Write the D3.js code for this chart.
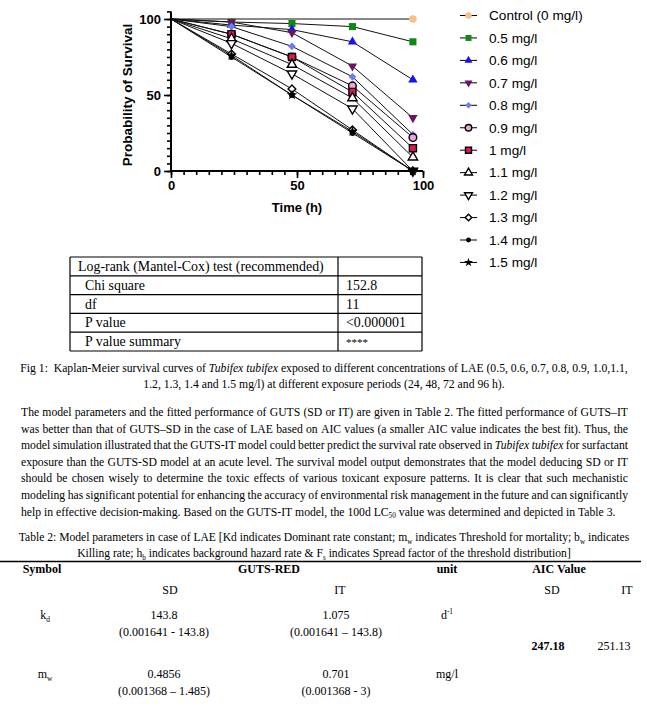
<!DOCTYPE html>
<html><head><meta charset="utf-8">
<script src="https://cdn.jsdelivr.net/npm/d3@7"></script>
<style>body{margin:0;background:#fff;} svg{display:block;} text{white-space:pre;}</style>
</head><body>
<script>
// ---------------- DATA ----------------
const times = [0, 24, 48, 72, 96];
const seriesLabels = ["Control (0 mg/l)", "0.5 mg/l", "0.6 mg/l", "0.7 mg/l", "0.8 mg/l", "0.9 mg/l",
  "1 mg/l", "1.1 mg/l", "1.2 mg/l", "1.3 mg/l", "1.4 mg/l", "1.5 mg/l"];
const survControl = [100, 100, 100, 100, 100];
const surv05 = [100, 98, 97, 95, 85];
const surv06 = [100, 96, 93, 85, 60];
const surv07 = [100, 98, 91, 69, 35];
const surv08 = [100, 95, 82, 62, 24];
const surv09 = [100, 90, 75, 56, 22];
const surv10 = [100, 90, 75, 52, 15];
const surv11 = [100, 87, 70, 48, 9];
const surv12 = [100, 84, 64, 41, 0];
const surv13 = [100, 77, 54, 27, 0];
const surv14 = [100, 75, 50, 25, 0];
const surv15 = [100, 76, 50, 26, 0];
const yTickValues = [0, 50, 100];
const xTickValues = [0, 50, 100];
const xTitle = "Time (h)";
const yTitle = "Probability of Survival";

const statsLabels = ["Log-rank (Mantel-Cox) test (recommended)", "Chi square", "df", "P value", "P value summary"];
const statsValues = ["", "152.8", "11", "<0.000001", "****"];

const captionLines = [
  "Fig 1:  Kaplan-Meier survival curves of _Tubifex tubifex_ exposed to different concentrations of LAE (0.5, 0.6, 0.7, 0.8, 0.9, 1.0,1.1,",
  "1.2, 1.3, 1.4 and 1.5 mg/l) at different exposure periods (24, 48, 72 and 96 h)."
];
const paragraphLines = [
  "The model parameters and the fitted performance of GUTS (SD or IT) are given in Table 2. The fitted performance of GUTS\u2013IT",
  "was better than that of GUTS\u2013SD in the case of LAE based on AIC values (a smaller AIC value indicates the best fit). Thus, the",
  "model simulation illustrated that the GUTS-IT model could better predict the survival rate observed in _Tubifex_ _tubifex_ for surfactant",
  "exposure than the GUTS-SD model at an acute level. The survival model output demonstrates that the model deducing SD or IT",
  "should be chosen wisely to determine the toxic effects of various toxicant exposure patterns. It is clear that such mechanistic",
  "modeling has significant potential for enhancing the accuracy of environmental risk management in the future and can significantly",
  "help in effective decision-making. Based on the GUTS-IT model, the 100d LC~50~ value was determined and depicted in Table 3."
];
const table2Caption = [
  "Table 2: Model parameters in case of LAE [Kd indicates Dominant rate constant; m~w~ indicates Threshold for mortality; b~w~ indicates",
  "Killing rate; h~b~ indicates background hazard rate & F~s~ indicates Spread factor of the threshold distribution]"
];
const table2Headers = ["Symbol", "GUTS-RED", "unit", "AIC Value"];
const table2SubHeaders = ["SD", "IT", "SD", "IT"];
const paramSymbols = ["k~d~", "m~w~"];
const paramSD = ["143.8", "0.4856"];
const paramSDRange = ["(0.001641 - 143.8)", "(0.001368 \u2013 1.485)"];
const paramIT = ["1.075", "0.701"];
const paramITRange = ["(0.001641 \u2013 143.8)", "(0.001368 - 3)"];
const paramUnits = ["d^-1^", "mg/l"];
const aicValues = ["247.18", "251.13"];

// ---------------- SETUP ----------------
const W = 647, H = 711;
const SANS = "Arial,'Liberation Sans',sans-serif";
const SERIF = "'Times New Roman','Liberation Serif',serif";
const svg = d3.select("body").append("svg").attr("width", W).attr("height", H);
svg.append("rect").attr("width", W).attr("height", H).attr("fill", "#fff");

// ---------------- CHART ----------------
const x = d3.scaleLinear().domain([0, 100]).range([171, 423]);
const y = d3.scaleLinear().domain([0, 100]).range([171, 19]);
const chart = svg.append("g");

const seriesValues = [survControl, surv05, surv06, surv07, surv08, surv09, surv10, surv11, surv12, surv13, surv14, surv15];
const symPaths = {
  circle: d3.symbol(d3.symbolCircle, 46)(),
  square: d3.symbol(d3.symbolSquare, 50)(),
  tri: d3.symbol(d3.symbolTriangle, 38)(),
  diamond: d3.symbol(d3.symbolSquare, 30)(),
  star: d3.symbol(d3.symbolStar, 34)(),
  dot: d3.symbol(d3.symbolCircle, 26)()
};
const styles = [
  {shape: "circle", rot: 0, fill: "#FBBE86", stroke: "none"},
  {shape: "square", rot: 0, fill: "#0E8A12", stroke: "none"},
  {shape: "tri", rot: 0, fill: "#1212F2", stroke: "none"},
  {shape: "tri", rot: 180, fill: "#6B1462", stroke: "none"},
  {shape: "diamond", rot: 45, fill: "#6A7CF8", stroke: "none"},
  {shape: "circle", rot: 0, fill: "#F0A2DA", stroke: "#000"},
  {shape: "square", rot: 0, fill: "#E2145E", stroke: "#000"},
  {shape: "tri", rot: 0, fill: "#fff", stroke: "#000"},
  {shape: "tri", rot: 180, fill: "#fff", stroke: "#000"},
  {shape: "diamond", rot: 45, fill: "#fff", stroke: "#000"},
  {shape: "dot", rot: 0, fill: "#000", stroke: "none"},
  {shape: "star", rot: 0, fill: "#000", stroke: "none"}
];
function drawMarker(g, st, cx, cy, k) {
  g.append("path").attr("d", symPaths[st.shape])
    .attr("transform", `translate(${cx},${cy}) rotate(${st.rot}) scale(${k || 1})`)
    .attr("fill", st.fill).attr("stroke", st.stroke).attr("stroke-width", 1.4 / (k || 1));
}

// axes: minor ticks
const tickStyle = g => g.selectAll("line").attr("stroke", "#000").attr("stroke-width", 1.6);
chart.append("g").attr("transform", `translate(${x(0)},0)`)
  .call(d3.axisLeft(y).tickValues(d3.range(0, 106, 5)).tickSize(4).tickFormat(""))
  .call(g => g.select(".domain").remove()).call(tickStyle);
chart.append("g").attr("transform", `translate(0,${y(0)})`)
  .call(d3.axisBottom(x).tickValues(d3.range(0, 101, 5)).tickSize(4).tickFormat(""))
  .call(g => g.select(".domain").remove()).call(tickStyle);
// major ticks
const yAx = chart.append("g").attr("transform", `translate(${x(0)},0)`)
  .call(d3.axisLeft(y).tickValues(yTickValues).tickSize(7).tickPadding(3).tickFormat(d3.format("d")))
  .call(g => g.select(".domain").remove()).call(tickStyle);
const xAx = chart.append("g").attr("transform", `translate(0,${y(0)})`)
  .call(d3.axisBottom(x).tickValues(xTickValues).tickSize(7).tickPadding(3).tickFormat(d3.format("d")))
  .call(g => g.select(".domain").remove()).call(tickStyle);
[yAx, xAx].forEach(a => a.selectAll("text").attr("font-family", SANS).attr("font-size", 13)
  .attr("font-weight", "bold").attr("fill", "#000"));
// axis lines
chart.append("line").attr("x1", x(0)).attr("x2", x(0)).attr("y1", y(0) + 1).attr("y2", y(105))
  .attr("stroke", "#000").attr("stroke-width", 2);
chart.append("line").attr("x1", x(0) - 1).attr("x2", x(100)).attr("y1", y(0)).attr("y2", y(0))
  .attr("stroke", "#000").attr("stroke-width", 2);

chart.append("text").attr("x", (x(0) + x(100)) / 2).attr("y", 212).attr("text-anchor", "middle")
  .attr("font-family", SANS).attr("font-size", 13).attr("font-weight", "bold").text(xTitle);
chart.append("text").attr("transform", `translate(132,${(y(0) + y(100)) / 2}) rotate(-90)`)
  .attr("text-anchor", "middle").attr("font-family", SANS).attr("font-size", 13.5)
  .attr("font-weight", "bold").text(yTitle);

// lines
const line = d3.line().x((d, i) => x(times[i])).y(d => y(d));
seriesValues.forEach(vals => {
  chart.append("path").attr("d", line(vals)).attr("fill", "none")
    .attr("stroke", "#111").attr("stroke-width", 1);
});
// markers
seriesValues.forEach((vals, si) => {
  vals.forEach((v, j) => {
    if (j === 0) return;
    if (j === vals.length - 1 || v !== vals[j - 1]) drawMarker(chart, styles[si], x(times[j]), y(v));
  });
});

// legend
const legend = svg.append("g");
seriesLabels.forEach((lab, i) => {
  const cy = 15.5 + i * 22.45;
  legend.append("line").attr("x1", 460).attr("x2", 477).attr("y1", cy).attr("y2", cy)
    .attr("stroke", "#000").attr("stroke-width", 1);
  drawMarker(legend, styles[i], 468.5, cy, 0.85);
  legend.append("text").attr("x", 489).attr("y", cy + 4.8).attr("font-family", SANS)
    .attr("font-size", 13.6).attr("fill", "#000").text(lab);
});

// ---------------- STATS TABLE ----------------
const st = svg.append("g");
const tX0 = 70, tX1 = 422, tXd = 338, tY0 = 257, rowH = 18.8;
const nRows = statsLabels.length;
for (let r = 0; r <= nRows; r++) {
  st.append("line").attr("x1", tX0).attr("x2", tX1).attr("y1", tY0 + r * rowH).attr("y2", tY0 + r * rowH)
    .attr("stroke", "#000").attr("stroke-width", 1.2);
}
[tX0, tXd, tX1].forEach(xx => st.append("line").attr("x1", xx).attr("x2", xx).attr("y1", tY0)
  .attr("y2", tY0 + nRows * rowH).attr("stroke", "#000").attr("stroke-width", 1.2));
statsLabels.forEach((lab, r) => {
  st.append("text").attr("x", r === 0 ? 78 : 85).attr("y", tY0 + r * rowH + 14)
    .attr("font-family", SERIF).attr("font-size", 13.9).text(lab);
  st.append("text").attr("x", 346).attr("y", tY0 + r * rowH + 14)
    .attr("font-family", SERIF).attr("font-size", statsValues[r] === "****" ? 11 : 13.9).text(statsValues[r]);
});

// ---------------- RICH TEXT HELPERS ----------------
function parseRich(str) {
  const segs = [];
  const state = {it: false, sub: false, sup: false};
  let cur = {t: "", ...state};
  for (const ch of str) {
    let key = ch === "_" ? "it" : ch === "~" ? "sub" : ch === "^" ? "sup" : null;
    if (key) {
      if (cur.t) segs.push(cur);
      state[key] = !state[key];
      cur = {t: "", ...state};
    } else cur.t += ch;
  }
  if (cur.t) segs.push(cur);
  return segs;
}
function richText(g, str, xx, yy, fs, anchor, bold) {
  const t = g.append("text").attr("x", xx).attr("y", yy).attr("font-family", SERIF)
    .attr("font-size", fs).attr("fill", "#000").attr("text-anchor", anchor || "start");
  if (bold) t.attr("font-weight", "bold");
  let shift = 0;
  parseRich(str).forEach(s => {
    const ts = t.append("tspan").text(s.t);
    if (s.it) ts.attr("font-style", "italic");
    const target = s.sub ? fs * 0.22 : s.sup ? -fs * 0.38 : 0;
    if (s.sub || s.sup) ts.attr("font-size", fs * 0.62);
    if (target !== shift) { ts.attr("dy", target - shift); shift = target; }
  });
  return t;
}
function justifiedLine(g, str, x0, x1, yy, fs, justify) {
  const words = str.split(" ");
  const nodes = words.map(w => richText(g, w, 0, yy, fs));
  const widths = nodes.map(n => n.node().getComputedTextLength());
  const total = d3.sum(widths);
  const gap = justify ? (x1 - x0 - total) / (words.length - 1) : fs * 0.25;
  let xx = x0;
  nodes.forEach((n, i) => { n.attr("x", xx); xx += widths[i] + gap; });
}

// ---------------- CAPTION & PARAGRAPH ----------------
const body = svg.append("g");
const capBase = [372, 388];
captionLines.forEach((l, i) => richText(body, l, 324, capBase[i], 11.7, "middle"));
paragraphLines.forEach((l, i) =>
  justifiedLine(body, l, 21, 628, 416 + i * 16.6, 11.7, i < paragraphLines.length - 1));
const tcapBase = [541, 557];
table2Caption.forEach((l, i) => richText(body, l, 324, tcapBase[i], 11.6, "middle"));

// ---------------- TABLE 2 ----------------
body.append("line").attr("x1", 0).attr("x2", 641).attr("y1", 561.5).attr("y2", 561.5)
  .attr("stroke", "#000").attr("stroke-width", 1.3);
const hdrX = [42, 269, 447, 559];
table2Headers.forEach((h, i) => richText(body, h, hdrX[i], 573, 12, "middle", true));
const subX = [170, 340, 552, 627];
table2SubHeaders.forEach((h, i) => richText(body, h, subX[i], 594, 12, "middle"));
const rowBase = [619, 678];
paramSymbols.forEach((s, i) => {
  const yy = rowBase[i];
  richText(body, s, 45, yy, 12, "middle");
  richText(body, paramSD[i], 164, yy, 12, "middle");
  richText(body, paramSDRange[i], 164, yy + 17, 12, "middle");
  richText(body, paramIT[i], 336, yy, 12, "middle");
  richText(body, paramITRange[i], 336, yy + 17, 12, "middle");
  richText(body, paramUnits[i], 447, yy, 12, "middle");
});
richText(body, aicValues[0], 548, 650, 12, "middle", true);
richText(body, aicValues[1], 614, 650, 12, "middle");
</script>
</body></html>
